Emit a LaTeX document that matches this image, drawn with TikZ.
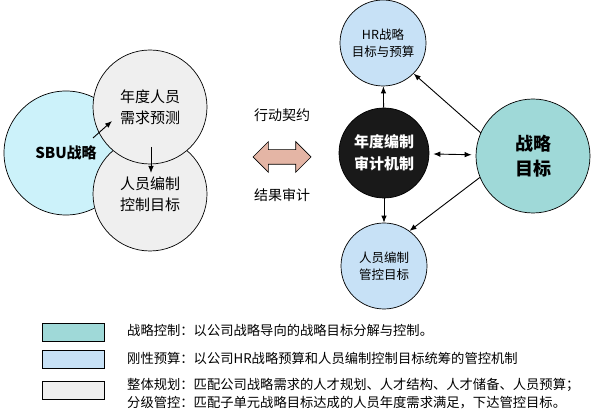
\documentclass[tikz,border=0pt]{standalone}
\usepackage{fontspec}
\setmainfont{Noto Sans CJK SC}
\usepackage{xcolor}
\usetikzlibrary{shapes,arrows,arrows.meta,calc}

\definecolor{sbucyan}{HTML}{CCF2FA}
\definecolor{goalteal}{HTML}{9FD9D8}
\definecolor{hrblue}{HTML}{C7E1F6}
\definecolor{plangray}{HTML}{EFEFEF}
\definecolor{dealpink}{HTML}{E4B5A5}

\begin{document}
\begin{tikzpicture}[x=1pt,y=-1pt,
        bubble/.style={circle, draw, line width=0.7pt, inner sep=0pt, align=center},
        tip/.style={-{Latex[length=7pt,width=5.5pt]}, line width=0.9pt},
        legendbox/.style={draw, line width=0.8pt, minimum width=62pt, minimum height=18pt, inner sep=0pt},
        legendtext/.style={anchor=west, align=left, inner sep=0pt, font=\fontsize{13.3}{18}\selectfont}]
        \useasboundingbox (0,0) rectangle (600,419);

        % left group
        \node[bubble, fill=sbucyan, minimum size=124pt, font=\bfseries\fontsize{15}{20}\selectfont] (sbu) at (66,153) {SBU战略};
        \node[bubble, fill=plangray, minimum size=114pt, font=\fontsize{15}{21}\selectfont] (staff) at (150,194) {人员编制\\控制目标};
        \node[bubble, fill=plangray, minimum size=114pt, font=\fontsize{15}{21}\selectfont] (demand) at (150,107) {年度人员\\需求预测};
        \coordinate (sbuout) at (93,138);
        \coordinate (demandin) at (112,121);
        \coordinate (demandout) at (151,147);
        \coordinate (staffin) at (151,173);
        \draw[tip] (sbuout) -- (demandin);
        \draw[tip] (demandout) -- (staffin);

        % middle
        \node[double arrow, draw, fill=dealpink, line width=0.7pt, minimum height=58pt, minimum width=30pt, double arrow head extend=8pt, inner xsep=0pt, inner ysep=7pt] (deal) at (282,157) {};
        \node[font=\fontsize{14}{18}\selectfont] (dealtop) at (282,115) {行动契约};
        \node[font=\fontsize{14}{18}\selectfont] (dealbottom) at (282,195) {结果审计};

        % right group
        \node[bubble, fill=hrblue, minimum size=86pt, font=\fontsize{12.5}{17}\selectfont] (hrgoal) at (383,43) {HR战略\\目标与预算};
        \node[bubble, fill=black!90, text=white, minimum size=90pt, font=\bfseries\fontsize{15}{22}\selectfont] (audit) at (384,153) {年度编制\\审计机制};
        \node[bubble, fill=hrblue, minimum size=86pt, font=\fontsize{12.5}{17}\selectfont] (quota) at (384,266) {人员编制\\管控目标};
        \node[bubble, fill=goalteal, minimum size=114pt, font=\bfseries\fontsize{18}{25}\selectfont] (goal) at (533,156) {战略\\目标};

        \draw[tip] (audit) -- (hrgoal);
        \draw[tip] (audit) -- (quota);
        \draw[{Latex[length=7pt,width=5.5pt]}-{Latex[length=7pt,width=5.5pt]}, line width=0.9pt, shorten <=4pt, shorten >=4pt] (audit) -- (goal);
        \draw[tip] (goal.156) -- (hrgoal.-45);
        \draw[tip] (goal.202) -- (quota.54);

        % legend
        \node[legendbox, fill=goalteal] (keygoal) at (73,332) {};
        \node[legendbox, fill=hrblue] (keybudget) at (73,359) {};
        \node[legendbox, fill=plangray] (keyplan) at (73,390) {};
        \node[legendtext] (txtgoal) at (127,330) {战略控制：以公司战略导向的战略目标分解与控制。};
        \node[legendtext] (txtbudget) at (127,358) {刚性预算：以公司HR战略预算和人员编制控制目标统筹的管控机制};
        \node[legendtext] (txtplan) at (127,394) {整体规划：匹配公司战略需求的人才规划、人才结构、人才储备、人员预算；\\分级管控：匹配子单元战略目标达成的人员年度需求满足，下达管控目标。};
\end{tikzpicture}
\end{document}
